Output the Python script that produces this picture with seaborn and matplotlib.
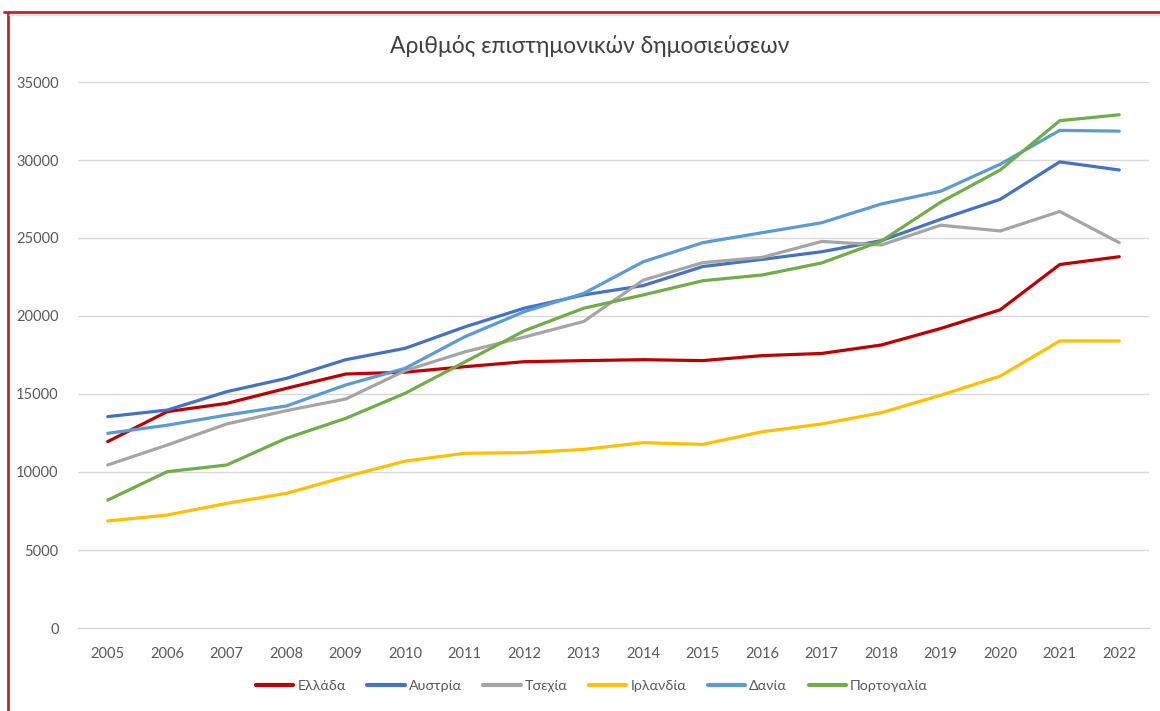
import matplotlib
matplotlib.use("Agg")
import matplotlib.pyplot as plt
from matplotlib.lines import Line2D
import seaborn as sns
import pandas as pd

years = list(range(2005, 2023))
countries = ["Ελλάδα", "Αυστρία", "Τσεχία", "Ιρλανδία", "Δανία", "Πορτογαλία"]

greece = [11950, 13870, 14400, 15360, 16280, 16400, 16750, 17070, 17140, 17200,
          17140, 17460, 17600, 18140, 19200, 20400, 23300, 23800]
austria = [13550, 13970, 15150, 16000, 17200, 17930, 19300, 20500, 21350, 21950,
           23170, 23630, 24120, 24830, 26200, 27480, 29880, 29360]
czechia = [10450, 11730, 13080, 13930, 14680, 16500, 17700, 18650, 19650, 22300,
           23420, 23760, 24780, 24550, 25820, 25450, 26700, 24700]
ireland = [6860, 7240, 7990, 8630, 9700, 10700, 11200, 11240, 11450, 11880,
           11770, 12580, 13080, 13800, 14920, 16150, 18400, 18400]
denmark = [12480, 13000, 13650, 14230, 15580, 16650, 18670, 20280, 21450, 23480,
           24700, 25340, 25980, 27180, 28000, 29730, 31900, 31850]
portugal = [8200, 10020, 10450, 12160, 13440, 15050, 17050, 19050, 20500, 21350,
            22260, 22630, 23400, 24800, 27300, 29360, 32520, 32900]

series = [greece, austria, czechia, ireland, denmark, portugal]
colors = ["#C00000", "#4472C4", "#A5A5A5", "#FFC000", "#5B9BD5", "#70AD47"]

rows = []
for name, vals in zip(countries, series):
    for y, v in zip(years, vals):
        rows.append({"year": y, "country": name, "value": v})
df = pd.DataFrame(rows)

sns.set_theme(style="white")
plt.rcParams['font.family'] = ['Lato', 'Noto Sans', 'DejaVu Sans']

fig = plt.figure(figsize=(11.6, 7.11), dpi=100)
ax = fig.add_axes([78/1160, 1-628/711, (1149-78)/1160, (628-82)/711])

sns.lineplot(data=df, x="year", y="value", hue="country", hue_order=countries,
             palette=colors, linewidth=2.3, ax=ax, legend=False)

ax.set_xlim(2004.5, 2022.5)
ax.set_ylim(0, 35000)
ax.set_xticks(years)
ax.set_xticklabels([str(y) for y in years])
ax.set_yticks(range(0, 35001, 5000))
ax.set_yticklabels([str(v) for v in range(0, 35001, 5000)])
ax.yaxis.grid(True, color="#D9D9D9", linewidth=1)
ax.xaxis.grid(False)
for s in ["left", "right", "top"]:
    ax.spines[s].set_visible(False)
ax.spines["bottom"].set_color("#D9D9D9")
ax.spines["bottom"].set_linewidth(1)
ax.tick_params(axis="both", length=0, labelsize=10.5, labelcolor="#595959")
ax.tick_params(axis="y", pad=14)
ax.tick_params(axis="x", pad=14)
ax.set_xlabel("")
ax.set_ylabel("")
ax.set_axisbelow(True)

fig.text(590/1160, 1-46/711, "Αριθμός επιστημονικών δημοσιεύσεων", ha="center",
         va="center", fontsize=16.5, color="#404040")

handles = [Line2D([0], [0], color=c, linewidth=3) for c in colors]
fig.legend(handles, countries, loc="center", bbox_to_anchor=(592/1160, 1-686/711),
           ncol=6, frameon=False, fontsize=10.3, handlelength=2.6, handletextpad=0.3,
           columnspacing=1.5, labelcolor="#595959")

# red frame lines (top and left)
fig.add_artist(Line2D([4/1160, 1], [1-12/711, 1-12/711], color="#C8202C", linewidth=2,
                      transform=fig.transFigure))
fig.add_artist(Line2D([8/1160, 8/1160], [0, 1-12/711], color="#C8202C", linewidth=2,
                      transform=fig.transFigure))
fig.add_artist(Line2D([9/1160, 1], [1-14.5/711, 1-14.5/711], color="#DDDDDD", linewidth=1,
                      transform=fig.transFigure))

fig.savefig("out.png", dpi=100)
